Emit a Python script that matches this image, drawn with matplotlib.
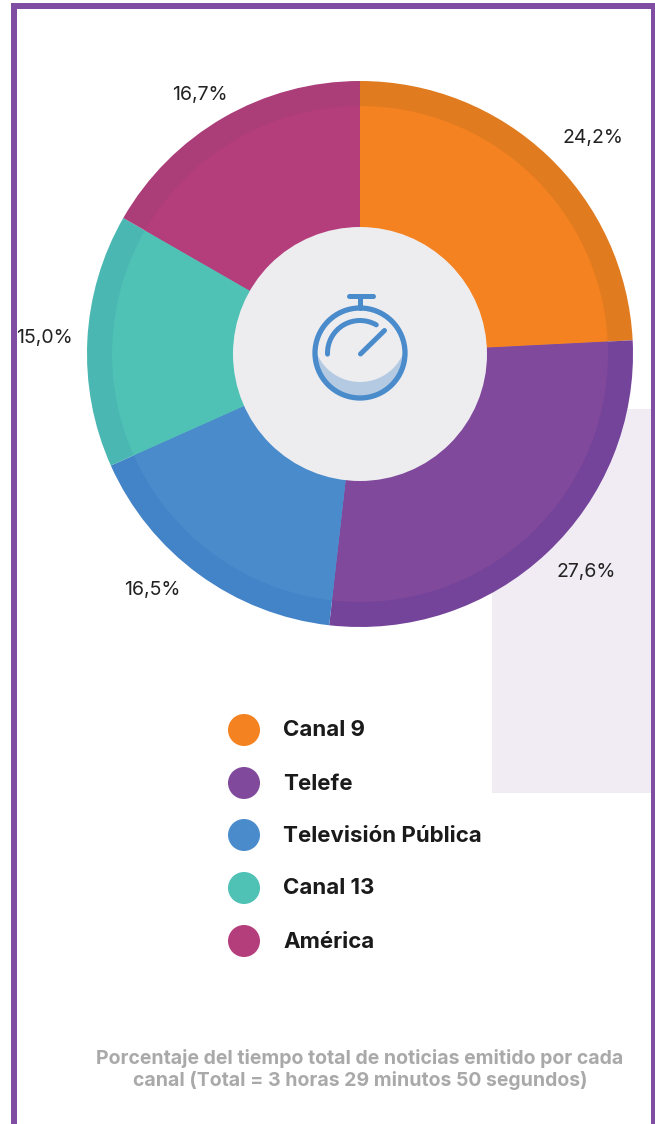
"""
Share of news airtime per TV channel, as a donut with a stopwatch in the middle.
"""

import matplotlib.pyplot as plt
from matplotlib.patches import Arc, Circle, Rectangle

canales = ['Canal 9', 'Telefe', 'Televisión Pública', 'Canal 13', 'América']
valores = [24.2, 27.6, 16.5, 15.0, 16.7]
colores = ['#F58220', '#80499C', '#4A8BCB', '#4FC1B5', '#B43E7C']
colores_borde = ['#E07B1F', '#74439A', '#4383C8', '#4AB7B2', '#AB3D79']
etiquetas = ['24,2%', '27,6%', '16,5%', '15,0%', '16,7%']
etiqueta_pos = [(592.5, 137), (586, 571), (152, 589), (44.5, 337), (200, 94)]

W, H = 655, 1124
CX, CY = 360, 354
PURPLE = '#7F4EA3'
BLUE = '#4A8BCB'
BG = '#EDEDF0'
FONT = 'Inter'


def py(y):
    # picture coordinates run downwards
    return H - y


fig = plt.figure(figsize=(W / 100, H / 100), dpi=100)
ax = fig.add_axes([0, 0, 1, 1])

# light panel behind the pie
ax.add_patch(Rectangle((492, py(793)), 159, 384, color='#F1EBF4', lw=0))

# outer ring, then the lighter inner pie
pie_kw = dict(startangle=90, counterclock=False, center=(CX, py(CY)), frame=True)
ax.pie(valores, radius=273, colors=colores_borde, **pie_kw)
ax.pie(valores, radius=248, colors=colores, **pie_kw)
ax.add_patch(Circle((CX, py(CY)), 127, color=BG, lw=0))

ax.set_xlim(0, W)
ax.set_ylim(0, H)
ax.set_aspect('equal')
ax.axis('off')

# frame, open at the bottom
ax.add_patch(Rectangle((11, 0), 5.5, py(3), color=PURPLE, lw=0))
ax.add_patch(Rectangle((11, py(8.5)), W - 11, 5.5, color=PURPLE, lw=0))
ax.add_patch(Rectangle((651, 0), 4, py(3), color=PURPLE, lw=0))

# stopwatch icon
sw_y = py(353)
clip = Circle((CX, sw_y), 45, transform=ax.transData)
ax.add_patch(Circle((CX, sw_y), 45, color='#B3CAE2', lw=0))
cover = Circle((CX, py(335)), 47, color=BG, lw=0)
ax.add_patch(cover)
cover.set_clip_path(clip)
ax.add_patch(Circle((CX, sw_y), 45, fill=False, ec=BLUE, lw=3.8))
line_kw = dict(color=BLUE, lw=3.6, solid_capstyle='round')
ax.plot([CX, CX], [py(296), py(308)], **line_kw)
ax.plot([349, 373], [py(295.5), py(295.5)], **line_kw)
ax.plot([360.5, 384.5], [py(354), py(330.5)], **line_kw)
ax.add_patch(Arc((CX, sw_y), 65, 65, theta1=60, theta2=182, color=BLUE, lw=3.6,
                 capstyle='round'))

# percentage labels
for texto, (x, y) in zip(etiquetas, etiqueta_pos):
    ax.text(x, py(y + 6), texto, ha='center', va='baseline', fontsize=14,
            color='#222222', family=FONT)

# legend
leyenda_y = [730, 783, 835, 888, 941]
for nombre, color, y in zip(canales, colores, leyenda_y):
    ax.add_patch(Circle((244, py(y)), 16, color=color, lw=0))
    ax.text(283, py(y + 6.5), nombre, ha='left', va='baseline', fontsize=16,
            fontweight='bold', color='#1A1A1A', family=FONT)

# caption
caption_kw = dict(ha='center', va='baseline', fontsize=14, fontweight='bold',
                  color='#A9A9A9', family=FONT)
ax.text(360, py(1064), 'Porcentaje del tiempo total de noticias emitido por cada', **caption_kw)
ax.text(360, py(1086), 'canal (Total = 3 horas 29 minutos 50 segundos)', **caption_kw)

fig.savefig('out.png', dpi=100, facecolor='white')
